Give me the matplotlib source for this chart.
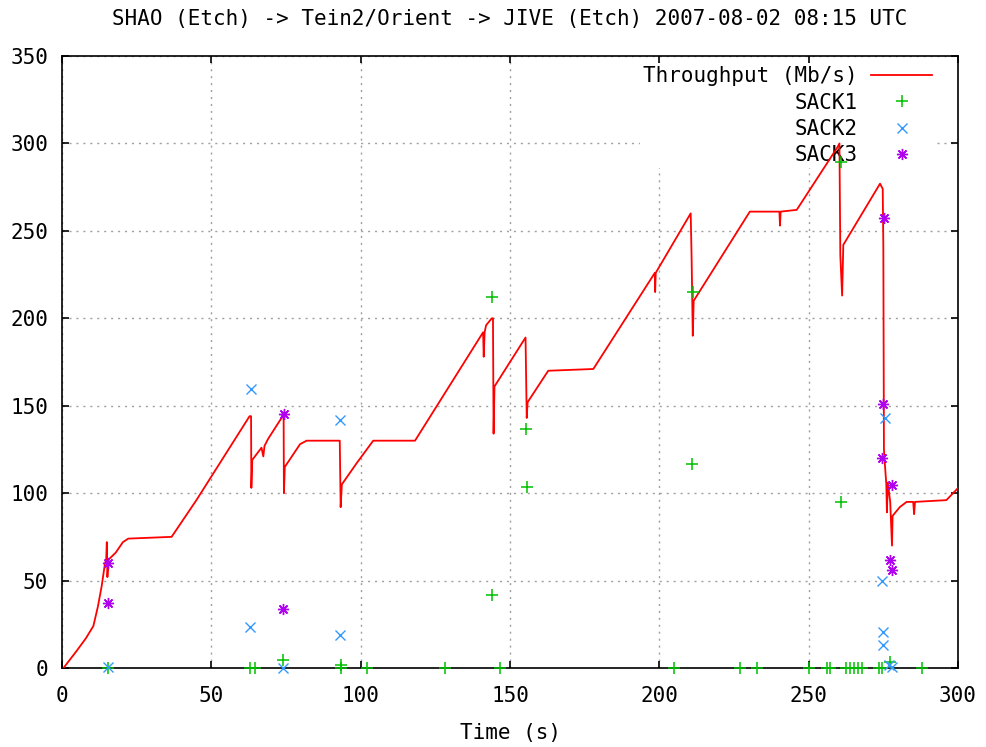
import matplotlib
matplotlib.use("Agg")
import matplotlib.pyplot as plt

# Throughput (Mb/s) trace
tp_time = [0.5, 5, 8, 10.5, 12, 13.3, 14.4, 14.8, 15.0, 15.2, 15.6, 18, 20.4, 22.2, 36.7, 45,
           62.8, 63.3, 63.4, 63.7, 66.8, 67.4, 67.8, 69, 73.5, 73.9, 74.2, 74.3, 74.6, 75, 79.7,
           81.9, 93, 93.3, 93.7, 98.6, 104.2, 118.2, 141, 141.2, 141.5, 142, 143.9, 144.3, 144.5,
           144.8, 155.2, 155.4, 155.6, 155.9, 162.8, 177.9, 198.5, 198.6, 198.8, 210.5, 210.8,
           211.2, 211.5, 230.3, 240.2, 240.4, 240.6, 246, 259.7, 260.3, 260.6, 261.2, 261.6,
           273.9, 274.8, 275.0, 275.2, 275.5, 276.0, 276.2, 276.5, 277.3, 277.9, 278.1, 280.5,
           282.8, 285, 285.3, 285.6, 296.1, 299.5, 300]
tp_value = [0, 10, 17, 24, 35, 47, 60, 62, 72, 52, 62, 66, 72, 74, 75, 96,
            144, 144, 103, 119, 126, 121, 127, 131, 143, 146, 146, 100, 115, 116, 128,
            130, 130, 92, 105, 117, 130, 130, 192, 178, 192, 196, 200, 200, 134,
            161, 189, 166, 143, 152, 170, 171, 226, 215, 226, 260, 235,
            190, 210, 261, 261, 253, 261, 262, 298, 300, 236, 213, 242,
            277, 274, 241, 125, 117, 105, 89, 106, 95, 70, 87, 92,
            95, 95, 88, 95, 96, 102, 103]

sack1_time = [15.5, 62.9, 64.6, 74.1, 93.5, 93.5, 102, 128.2, 144.1, 144.1, 146.6, 155.2, 155.7,
              205, 210.8, 211.4, 227, 232.8, 250, 256, 257.3, 260.7, 260.7, 262.4, 263.8, 265.2,
              266.4, 267.7, 273.6, 274.7, 277.2, 288]
sack1_value = [0, 0, 0, 4.6, 1.7, 0, 0, 0, 212.4, 41.8, 0, 136.4, 103.5,
               0, 116.7, 215, 0, 0, 0, 0, 0, 289.6, 94.7, 0, 0, 0,
               0, 0, 0, 0, 3.6, 0]

sack2_time = [15.5, 62.9, 63.2, 74.1, 93.1, 93.1, 274.4, 275.0, 275.0, 275.5, 277.8, 277.0]
sack2_value = [0.5, 23.7, 159.5, 0, 142, 19, 50, 13.2, 20.8, 143, 0.8, 1.7]

sack3_time = [15.5, 15.5, 73.9, 74.4, 274.4, 275.0, 275.2, 277.2, 277.8, 277.8]
sack3_value = [60, 37, 33.8, 145, 120.2, 150.7, 257.3, 61.9, 56.2, 104.9]

x_ticks = [0, 50, 100, 150, 200, 250, 300]
y_ticks = [0, 50, 100, 150, 200, 250, 300, 350]

title = "SHAO (Etch) -> Tein2/Orient -> JIVE (Etch) 2007-08-02 08:15 UTC"

plt.rcParams['font.family'] = ['DejaVu Sans Mono']
FS = 15

fig = plt.figure(figsize=(9.86, 7.47), dpi=100)
ax = fig.add_axes([62/986, 1 - 668/747, (958-62)/986, (668-56)/747])

ax.plot(tp_time, tp_value, color='#ff0000', lw=1.3, label='Throughput (Mb/s)', zorder=3)
ax.plot(sack1_time, sack1_value, ls='none', marker='+', ms=8, mew=1.1, color='#00c000',
        label='SACK1', clip_on=False, zorder=4)
ax.plot(sack2_time, sack2_value, ls='none', marker='x', ms=7, mew=1.0, color='#3399ff',
        label='SACK2', clip_on=False, zorder=4)
ax.plot(sack3_time, sack3_value, ls='none', marker=(8, 2, 0), ms=8, mew=1.0, color='#b000f0',
        label='SACK3', clip_on=False, zorder=4)

ax.set_xlim(0, 300)
ax.set_ylim(0, 350)
ax.set_xticks(x_ticks)
ax.set_yticks(y_ticks)
ax.tick_params(direction='in', length=5, width=1.2, top=True, right=True,
               labelsize=FS, colors='black')
ax.tick_params(axis='x', pad=13)
ax.tick_params(axis='y', pad=10)
for s in ax.spines.values():
    s.set_linewidth(1.2)
ax.grid(True, color='#a0a0a0', linestyle=(0, (1.5, 3.5)), lw=1.0)
ax.set_axisbelow(True)

ax.set_xlabel('Time (s)', fontsize=FS, labelpad=12)
ax.set_title(title, fontsize=FS, pad=22)

leg = ax.legend(loc='upper right', bbox_to_anchor=(0.9743, 0.988), markerfirst=False,
                fontsize=FS, frameon=True, fancybox=False, edgecolor='none',
                facecolor='white', framealpha=1.0, handlelength=2.9, handletextpad=0.67,
                labelspacing=0.3, borderaxespad=0.0, borderpad=0.15)
leg.set_zorder(2.5)

fig.savefig('out.png', dpi=100)
